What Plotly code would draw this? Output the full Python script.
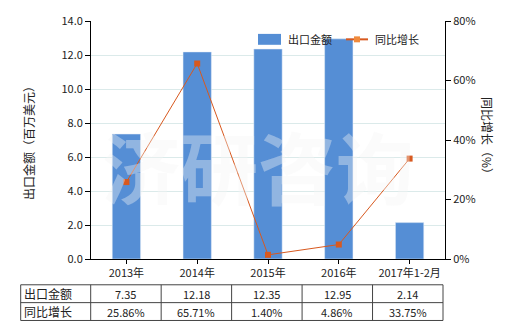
import plotly.graph_objects as go

categories = ["2013年", "2014年", "2015年", "2016年", "2017年1-2月"]
export_values = [7.35, 12.18, 12.35, 12.95, 2.14]
growth_pct = [25.86, 65.71, 1.40, 4.86, 33.75]
left_ticks = [0, 2, 4, 6, 8, 10, 12, 14]
right_ticks = [0, 20, 40, 60, 80]
row_labels = ["出口金额", "同比增长"]

FONT = "Noto Sans CJK SC"
BAR = "#558ed5"
LINE = "#d8591f"

W, H = 520, 330
L, R, T, B = 91, 75, 19, 71
pw, ph = W - L - R, H - T - B

def px_x(x):
    return (x - L) / pw

def px_y(y):
    return (H - B - y) / ph

fig = go.Figure()
fig.add_trace(go.Bar(x=categories, y=export_values, marker_color=BAR, width=0.4,
                     name="出口金额", showlegend=False))
fig.add_trace(go.Scatter(x=categories, y=growth_pct, yaxis="y2", mode="lines+markers",
                         line=dict(color=LINE, width=1),
                         marker=dict(symbol="square", size=6, color=LINE),
                         name="同比增长", showlegend=False))

shapes = []
ann = []

# watermark
ann.append(dict(text="济研咨询", x=px_x(258), y=px_y(164), xref="paper", yref="paper",
                showarrow=False,
                font=dict(family=FONT, size=78, weight="bold", color="rgba(245,245,245,0.38)"),
                xanchor="center", yanchor="middle"))

# legend
shapes.append(dict(type="rect", xref="paper", yref="paper", x0=px_x(258), x1=px_x(281),
                   y0=px_y(43), y1=px_y(32), fillcolor=BAR, line=dict(width=0)))
ann.append(dict(text="出口金额", x=px_x(286), y=px_y(37.5), xref="paper", yref="paper",
                showarrow=False, xanchor="left", yanchor="middle",
                font=dict(family=FONT, size=11, color="#222")))
shapes.append(dict(type="line", xref="paper", yref="paper", x0=px_x(346), x1=px_x(368),
                   y0=px_y(37.5), y1=px_y(37.5), line=dict(color=LINE, width=2)))
shapes.append(dict(type="rect", xref="paper", yref="paper", x0=px_x(354), x1=px_x(360),
                   y0=px_y(40.5), y1=px_y(34.5), fillcolor="#f08a3c", line=dict(width=0)))
ann.append(dict(text="同比增长", x=px_x(373), y=px_y(37.5), xref="paper", yref="paper",
                showarrow=False, xanchor="left", yanchor="middle",
                font=dict(family=FONT, size=11, color="#222")))

# axis titles
ann.append(dict(text="出口金额（百万美元）", x=px_x(28), y=px_y(139), xref="paper", yref="paper",
                showarrow=False, textangle=-90, xanchor="center", yanchor="middle",
                font=dict(family=FONT, size=12, color="#222")))
ann.append(dict(text="同比增长（%）", x=px_x(488), y=px_y(137), xref="paper", yref="paper",
                showarrow=False, textangle=90, xanchor="center", yanchor="middle",
                font=dict(family=FONT, size=12, color="#222")))

# table
ty = [px_y(285), px_y(303), px_y(321)]
tl = px_x(20.7)
border = dict(color="#444", width=1)
for yy in ty:
    shapes.append(dict(type="line", xref="paper", yref="paper", x0=tl, x1=px_x(443),
                       y0=yy, y1=yy, line=border))
shapes.append(dict(type="line", xref="paper", yref="paper", x0=tl, x1=tl,
                   y0=ty[0], y1=ty[2], line=border))
for i in range(len(categories) + 1):
    xx = px_x(90.7 + i * (443 - 90.7) / len(categories))
    shapes.append(dict(type="line", xref="paper", yref="paper", x0=xx, x1=xx,
                       y0=ty[0], y1=ty[2], line=border))
row_y = [px_y(294), px_y(312)]
for r, lab in enumerate(row_labels):
    ann.append(dict(text=lab, x=px_x(22), y=row_y[r], xref="paper", yref="paper",
                    showarrow=False, xanchor="left", yanchor="middle",
                    font=dict(family=FONT, size=12, color="#222")))
for i, c in enumerate(categories):
    cx = px_x(90.7 + (i + 0.5) * (443 - 90.7) / len(categories))
    ann.append(dict(text=f"{export_values[i]:.2f}", x=cx, y=row_y[0], xref="paper", yref="paper",
                    showarrow=False, xanchor="center", yanchor="middle",
                    font=dict(family=FONT, size=11, color="#222")))
    ann.append(dict(text=f"{growth_pct[i]:.2f}%", x=cx, y=row_y[1], xref="paper", yref="paper",
                    showarrow=False, xanchor="center", yanchor="middle",
                    font=dict(family=FONT, size=11, color="#222")))

fig.update_layout(
    width=W, height=H,
    margin=dict(l=L, r=R, t=T, b=B, pad=0),
    paper_bgcolor="white", plot_bgcolor="white",
    bargap=0.6,
    font=dict(family=FONT, size=11, color="#222"),
    xaxis=dict(type="category", range=[-0.5, 4.5], showline=True, linecolor="black", linewidth=1,
               ticks="outside", ticklen=4, tickcolor="black", showgrid=False,
               tickfont=dict(family=FONT, size=11, color="#222")),
    yaxis=dict(range=[0, 14], tickvals=left_ticks, ticktext=[f"{v:.1f}" for v in left_ticks],
               showline=True, linecolor="black", linewidth=1, ticks="outside", ticklen=5,
               tickcolor="black", gridcolor="#dbeaea", gridwidth=1, zeroline=False,
               tickfont=dict(family=FONT, size=11, color="#222")),
    yaxis2=dict(range=[0, 80], tickvals=right_ticks, ticktext=[f"{v}%" for v in right_ticks],
                overlaying="y", side="right", showline=True, linecolor="black", linewidth=1,
                ticks="outside", ticklen=5, tickcolor="black", showgrid=False, zeroline=False,
                tickfont=dict(family=FONT, size=11, color="#222")),
    shapes=shapes, annotations=ann,
)

fig.write_html("out.html")
